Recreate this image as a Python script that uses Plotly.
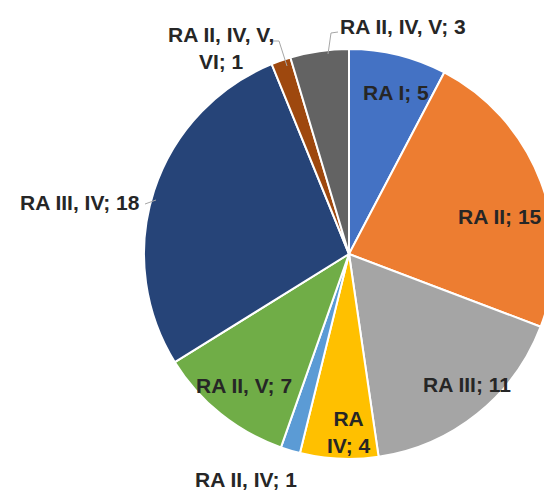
import plotly.graph_objects as go

W, H = 552, 491

labels = ["RA I", "RA II", "RA III", "RA IV", "RA II, IV", "RA II, V",
          "RA III, IV", "RA II, IV, V, VI", "RA II, IV, V"]
values = [5, 15, 11, 4, 1, 7, 18, 1, 3]
colors = ["#4472C4", "#ED7D31", "#A5A5A5", "#FFC000", "#5B9BD5", "#70AD47",
          "#264478", "#9E480E", "#636363"]

# label text (line breaks where the reference wraps) and label centres in pixels
label_text = ["RA I; 5", "RA II; 15", "RA III; 11", "RA<br>IV; 4", "RA II, IV; 1",
              "RA II, V; 7", "RA III, IV; 18", "RA II, IV, V,<br>VI; 1", "RA II, IV, V; 3"]
label_pos = [(388, 84), (492, 208), (459, 376), (341, 424), (238, 471),
             (236, 377), (72, 194), (213, 40), (395, 18)]

# domain box in pixels (left, top, size)
dl, dt, ds = 136, 41, 410

fig = go.Figure(go.Pie(
    labels=labels,
    values=values,
    sort=False,
    direction="clockwise",
    rotation=0,
    marker=dict(colors=colors, line=dict(color="white", width=2)),
    textinfo="none",
    hoverinfo="label+value",
    showlegend=False,
    domain=dict(x=[dl / W, min(1, (dl + ds) / W)],
                y=[(H - dt - ds) / H, (H - dt) / H]),
))

font = dict(family="Liberation Sans, Arial, sans-serif", size=21, color="#262626")
annotations = []
for t, (px, py) in zip(label_text, label_pos):
    annotations.append(dict(text="<b>" + t + "</b>", x=px / W, y=1 - py / H,
                            xref="paper", yref="paper", showarrow=False,
                            xanchor="center", yanchor="middle", font=font))

leaders = [
    [(320, 46), (323, 25), (330, 24)],
    [(279, 58), (271, 33), (265, 33)],
    [(137, 196), (148, 192)],
]
shapes = []
for pts in leaders:
    path = "M " + " L ".join(f"{x / W},{1 - y / H}" for x, y in pts)
    shapes.append(dict(type="path", path=path, xref="paper", yref="paper",
                       line=dict(color="#A6A6A6", width=1)))

fig.update_layout(
    width=W, height=H,
    margin=dict(l=0, r=0, t=0, b=0),
    paper_bgcolor="white", plot_bgcolor="white",
    annotations=annotations, shapes=shapes,
)

fig.write_html("out.html")
